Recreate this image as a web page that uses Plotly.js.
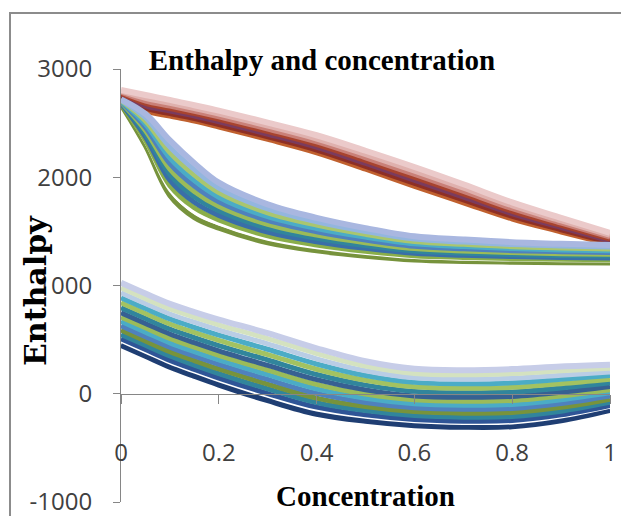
<!DOCTYPE html>
<html>
<head>
<meta charset="utf-8">
<script src="https://cdn.plot.ly/plotly-3.0.1.min.js"></script>
<style>
html, body { margin: 0; padding: 0; background: #ffffff; overflow: hidden; }
#wrap { position: relative; width: 621px; height: 516px; overflow: hidden; }
#chart { width: 621px; height: 516px; }
#frame { position: absolute; left: 9px; top: 12px; width: 700px; height: 600px;
         border: 2px solid #8C8C8C; pointer-events: none; box-sizing: border-box; }
</style>
</head>
<body>
<div id="wrap"><div id="chart"></div><div id="frame"></div></div>
<script>
// Concentration values (x)
const conc = [0, 0.05, 0.1, 0.15, 0.2, 0.3, 0.4, 0.5, 0.6, 0.7, 0.8, 0.9, 1];

// Upper (red) family of enthalpy curves, bottom to top
const vap1 = [2745, 2610, 2560, 2515, 2460, 2345, 2222, 2070, 1911, 1760, 1610, 1490, 1375];
const vap2 = [2754, 2633, 2583, 2538, 2483, 2369, 2247, 2096, 1939, 1786, 1634, 1510, 1392];
const vap3 = [2763, 2655, 2607, 2560, 2507, 2393, 2272, 2123, 1966, 1813, 1657, 1531, 1408];
const vap4 = [2772, 2678, 2630, 2583, 2530, 2417, 2297, 2149, 1994, 1839, 1681, 1551, 1425];
const vap5 = [2782, 2700, 2653, 2605, 2553, 2441, 2322, 2175, 2021, 1865, 1705, 1571, 1442];
const vap6 = [2793, 2727, 2681, 2632, 2581, 2470, 2351, 2207, 2055, 1897, 1733, 1595, 1462];
const vap7 = [2806, 2760, 2715, 2665, 2615, 2505, 2388, 2245, 2095, 1935, 1768, 1625, 1486];

// Middle (blue/green) family, bottom to top
const mid1  = [2670, 2290, 1830, 1628, 1530, 1395, 1320, 1270, 1235, 1222, 1215, 1210, 1209];
const mid2  = [2674, 2314, 1871, 1668, 1564, 1423, 1344, 1291, 1253, 1238, 1230, 1224, 1222];
const mid3  = [2679, 2343, 1922, 1718, 1606, 1459, 1375, 1317, 1275, 1259, 1248, 1242, 1239];
const mid4  = [2684, 2373, 1973, 1769, 1648, 1494, 1405, 1343, 1297, 1279, 1267, 1259, 1255];
const mid5  = [2689, 2402, 2024, 1819, 1690, 1530, 1436, 1369, 1319, 1299, 1285, 1277, 1272];
const mid6  = [2694, 2432, 2075, 1869, 1732, 1565, 1466, 1395, 1341, 1319, 1304, 1294, 1289];
const mid7  = [2699, 2461, 2126, 1919, 1774, 1601, 1497, 1421, 1363, 1340, 1322, 1312, 1305];
const mid8  = [2704, 2491, 2177, 1969, 1816, 1636, 1527, 1447, 1385, 1360, 1341, 1329, 1322];
const mid9  = [2709, 2520, 2228, 2020, 1858, 1672, 1558, 1473, 1407, 1380, 1359, 1347, 1338];
const mid10 = [2714, 2550, 2279, 2070, 1900, 1707, 1588, 1499, 1429, 1401, 1378, 1364, 1355];
const mid11 = [2720, 2585, 2340, 2130, 1950, 1750, 1625, 1530, 1455, 1425, 1400, 1385, 1375];

// Lower (liquid) family, bottom to top
const liq1  = [450, 350, 250, 165, 85, -60, -185, -250, -290, -305, -300, -245, -150];
const liq2  = [479, 379, 279, 195, 115, -29, -155, -222, -264, -279, -274, -220, -129];
const liq3  = [508, 408, 308, 224, 145, 2, -124, -195, -238, -253, -247, -195, -108];
const liq4  = [548, 448, 349, 265, 187, 45, -82, -156, -202, -216, -210, -161, -79];
const liq5  = [588, 488, 389, 307, 229, 89, -40, -118, -165, -179, -173, -126, -50];
const liq6  = [628, 528, 430, 348, 271, 132, 3, -80, -129, -143, -136, -91, -20];
const liq7  = [669, 569, 470, 389, 313, 176, 45, -41, -92, -106, -99, -56, 9];
const liq8  = [709, 609, 511, 431, 355, 219, 87, -2, -56, -70, -62, -21, 38];
const liq9  = [749, 649, 552, 472, 397, 262, 130, 36, -20, -33, -25, 13, 67];
const liq10 = [795, 695, 598, 519, 445, 312, 178, 80, 22, 9, 17, 53, 101];
const liq11 = [841, 741, 644, 566, 493, 362, 226, 124, 64, 51, 59, 93, 134];
const liq12 = [887, 787, 691, 613, 541, 411, 275, 168, 105, 92, 101, 133, 168];
const liq13 = [933, 833, 737, 661, 589, 461, 323, 212, 147, 134, 144, 172, 201];
const liq14 = [979, 879, 784, 708, 637, 510, 372, 256, 188, 176, 186, 212, 235];
const liq15 = [1025, 925, 830, 755, 685, 560, 420, 300, 230, 218, 228, 252, 268];

// Axis ticks
const xTicks = [0, 0.2, 0.4, 0.6, 0.8, 1];
const xLabels = ['0', '0.2', '0.4', '0.6', '0.8', '1'];
const yTicks = [-1000, 0, 1000, 2000, 3000];
const yLabels = ['-1000', '0', '1000', '2000', '3000'];

// Styles
const vapSeries = [vap1, vap2, vap3, vap4, vap5, vap6, vap7];
const vapColors = ['#C0602E', '#8E2F25', '#7A3B5E', '#A8432F', '#C98078', '#DFB0AD', '#EBCACA'];
const vapWidths = [4, 4, 4, 4, 4, 4.5, 6];
const midSeries = [mid1, mid2, mid3, mid4, mid5, mid6, mid7, mid8, mid9, mid10, mid11];
const midColors = ['#77933C', '#FFFFFF', '#8AAE4A', '#3A6EA8', '#31859C', '#9BBB59', '#4F81BD',
                   '#4BACC6', '#A9C66F', '#93B6DE', '#A9B7E0'];
const midWidths = [5, 2, 5, 5, 5, 5, 5, 5, 5, 5, 6];
const liqSeries = [liq1, liq2, liq3, liq4, liq5, liq6, liq7, liq8, liq9, liq10, liq11, liq12, liq13, liq14, liq15];
const liqColors = ['#1F3E73', '#FFFFFF', '#2F5597', '#31859C', '#77933C', '#4F81BD', '#4BACC6', '#9BBB59',
                   '#376092', '#31859C', '#A3C261', '#4BACC6', '#B9CDE5', '#D4E2C0', '#C7CDE8'];
const liqWidths = [6, 2, 5, 5, 5, 5, 5, 5, 5, 5, 5, 5, 5, 5, 6];

const traces = [];
function addGroup(series, colors, widths) {
  series.forEach((ys, i) => {
    traces.push({
      type: 'scatter', mode: 'lines', x: conc, y: ys,
      line: { color: colors[i], width: widths[i], shape: 'spline', smoothing: 1 },
      hoverinfo: 'skip', showlegend: false
    });
  });
}
addGroup(vapSeries, vapColors, vapWidths);
addGroup(midSeries, midColors, midWidths);
addGroup(liqSeries, liqColors, liqWidths);

const W = 621, H = 516;
const L = 121, R = 11, T = 69, B = 14;
const pw = W - L - R, ph = H - T - B;

const layout = {
  width: W, height: H,
  margin: { l: L, r: R, t: T, b: B, pad: 0 },
  paper_bgcolor: '#ffffff', plot_bgcolor: '#ffffff',
  showlegend: false,
  hovermode: false,
  title: {
    text: '<b>Enthalpy and concentration</b>',
    font: { family: 'Liberation Serif, Times New Roman, serif', size: 29, color: '#000000' },
    x: 322 / W, xanchor: 'center', xref: 'container',
    y: 1 - 60 / H, yanchor: 'middle', yref: 'container'
  },
  xaxis: {
    range: [0, 1], tickvals: xTicks, ticktext: xLabels,
    anchor: 'free', position: 0.25,
    showline: true, linecolor: '#868686', linewidth: 1,
    ticks: 'outside', ticklen: 9, tickcolor: '#868686', tickwidth: 1,
    ticklabelstandoff: 28, ticklabeloverflow: 'allow',
    showgrid: false, zeroline: false,
    tickfont: { family: 'Open Sans, Noto Sans, sans-serif', size: 24, color: '#404040' },
    title: {
      text: '<b>Concentration</b>',
      font: { family: 'Liberation Serif, Times New Roman, serif', size: 29, color: '#000000' },
      standoff: 19
    }
  },
  yaxis: {
    range: [-1000, 3000], tickvals: yTicks, ticktext: yLabels,
    showline: true, linecolor: '#868686', linewidth: 1,
    ticks: 'outside', ticklen: 7, tickcolor: '#868686', tickwidth: 1,
    ticklabelstandoff: 16, ticklabeloverflow: 'allow',
    showgrid: false, zeroline: false,
    tickfont: { family: 'Open Sans, Noto Sans, sans-serif', size: 24, color: '#404040' }
  },
  annotations: [{
    text: '<b>Enthalpy</b>', textangle: -90,
    xref: 'paper', yref: 'paper',
    x: (35 - L) / pw, y: (H - B - 291) / ph,
    xanchor: 'center', yanchor: 'middle', showarrow: false,
    font: { family: 'DejaVu Serif, serif', size: 30, color: '#000000' }
  }]
};

Plotly.newPlot('chart', traces, layout, { displayModeBar: false, staticPlot: true });
</script>
</body>
</html>
